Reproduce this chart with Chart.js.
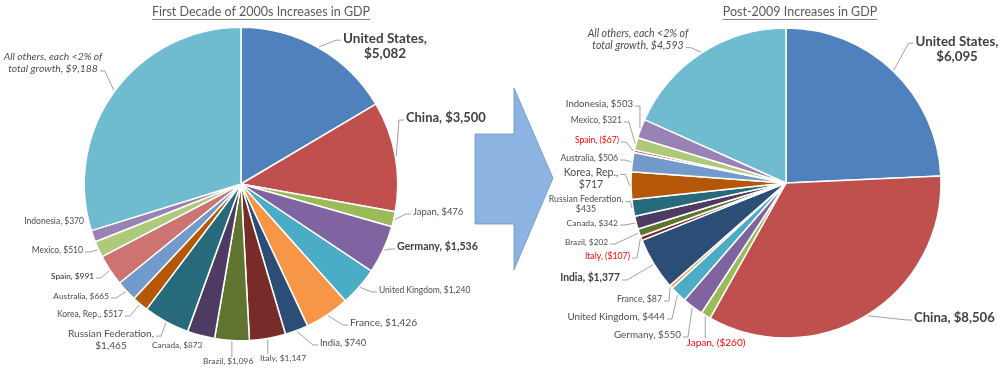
<!DOCTYPE html>
<html>
<head>
<meta charset="utf-8">
<script src="https://cdn.jsdelivr.net/npm/chart.js@4.4.1/dist/chart.umd.min.js"></script>
<style>
  body { margin: 0; background: #fff; }
  #wrap { position: relative; width: 1000px; height: 368px; overflow: hidden; }
  #wrap canvas, #wrap svg { position: absolute; left: 0; top: 0; }
</style>
</head>
<body>
<div id="wrap">
  <svg width="1000" height="368">
    <polygon points="475,134 514,134 514,88 553,178 514,270 514,224 475,224"
             fill="#8DB3E2" stroke="#6E95C9" stroke-width="0.8"/>
  </svg>
  <canvas id="decadeChart" width="1000" height="368"></canvas>
  <canvas id="postChart" width="1000" height="368"></canvas>
</div>
<script>
const countries = ['United States', 'China', 'Japan', 'Germany', 'United Kingdom', 'France', 'India', 'Italy',
    'Brazil', 'Canada', 'Russian Federation', 'Korea, Rep.', 'Australia', 'Spain', 'Mexico', 'Indonesia',
    'All others, each <2% of\ntotal growth'];
// GDP increases, billions of dollars
const decadeGrowth = [5082, 3500, 476, 1536, 1240, 1426, 740, 1147, 1096, 873, 1465, 517, 665, 991, 510, 370, 9188];
const post2009Growth = [6095, 8506, -260, 550, 444, 87, 1377, -107, 202, 342, 435, 717, 506, -67, 321, 503, 4593];
const sliceColors = ['#4F81BD', '#C0504D', '#9BBB59', '#8064A2', '#4BACC6', '#F79646', '#2C4D75', '#772C2A',
    '#5F7530', '#4D3B62', '#276A7C', '#B65708', '#729ACA', '#CD7371', '#AFC97A', '#9983B5', '#6FBCD1'];

const FONT = 'Lato, "Open Sans", sans-serif';

// where each slice's label sits (same order as countries)
// w: width of the widest text line, font size is fitted to it
// line: which text line the leader attaches to (default: middle of the block)
const decadeLabels = [
    {x: 385, y: 46, align: 'center', w: 80, bold: true, wrap: true, attach: 'l', line: 0},
    {x: 406, y: 118, align: 'left', w: 76, bold: true, attach: 'l'},
    {x: 413, y: 212, align: 'left', w: 48, attach: 'l'},
    {x: 397, y: 247, align: 'left', w: 77, bold: true, attach: 'l'},
    {x: 379, y: 290, align: 'left', w: 87, attach: 'l'},
    {x: 350, y: 323, align: 'left', w: 64, attach: 'l'},
    {x: 320, y: 343, align: 'left', w: 44, attach: 'l'},
    {x: 260, y: 358, align: 'left', w: 44, attach: 't'},
    {x: 203, y: 361, align: 'left', w: 48, attach: 't'},
    {x: 152, y: 345, align: 'left', w: 48, attach: 'none'},
    {x: 111, y: 340, align: 'center', w: 82, wrap: true, attach: 'r', line: 0},
    {x: 123, y: 314, align: 'right', w: 63, attach: 'r'},
    {x: 109, y: 296, align: 'right', w: 53, attach: 'r'},
    {x: 94, y: 276, align: 'right', w: 41, attach: 'r', color: '#1F1F1F'},
    {x: 83, y: 250, align: 'right', w: 49, attach: 'r'},
    {x: 84, y: 221, align: 'right', w: 57, attach: 'none'},
    {x: 53, y: 63, align: 'center', w: 94, italic: true, wrap: true, attach: 'r', line: 1}
];
const postLabels = [
    {x: 957, y: 49, align: 'center', w: 79, bold: true, wrap: true, attach: 'l', line: 0},
    {x: 914, y: 318, align: 'left', w: 77, bold: true, attach: 'l'},
    {x: 716, y: 343, align: 'center', w: 56, attach: 't'},
    {x: 681, y: 335, align: 'right', w: 64, attach: 'r'},
    {x: 665, y: 317, align: 'right', w: 93, attach: 'r'},
    {x: 662, y: 299, align: 'right', w: 43, attach: 'r'},
    {x: 620, y: 278, align: 'right', w: 57, bold: true, attach: 'r'},
    {x: 630, y: 256, align: 'right', w: 43, attach: 'r'},
    {x: 608, y: 242, align: 'right', w: 41, attach: 'r'},
    {x: 618, y: 223, align: 'right', w: 49, attach: 'r'},
    {x: 586, y: 204.5, align: 'center', w: 71, wrap: true, attach: 'r', line: 0},
    {x: 591, y: 178.5, align: 'center', w: 52, wrap: true, attach: 'r', line: 0},
    {x: 618, y: 158, align: 'right', w: 55, attach: 'r'},
    {x: 619, y: 140, align: 'right', w: 42, attach: 'r'},
    {x: 622, y: 120, align: 'right', w: 49, attach: 'r'},
    {x: 633, y: 104, align: 'right', w: 64, attach: 'r'},
    {x: 638, y: 39.5, align: 'center', w: 96, italic: true, wrap: true, attach: 'r', line: 1}
];

// kept outside chart options so Chart.js doesn't proxy the objects
const labelSetup = {
    decadeChart: {title: 'First Decade of 2000s Increases in GDP', titleX: 261, layout: decadeLabels},
    postChart: {title: 'Post-2009 Increases in GDP', titleX: 800, layout: postLabels}
};

function money(v) {
    const s = '$' + Math.abs(v).toLocaleString('en-US');
    return v < 0 ? '(' + s + ')' : s;
}

function labelLines(name, value, wrap) {
    const parts = name.split('\n');
    const val = money(value);
    if (parts.length > 1) return [parts[0], parts[1] + ', ' + val];
    if (wrap) return [name + ',', val];
    return [name + ', ' + val];
}

const sliceLabels = {
    id: 'sliceLabels',
    afterDatasetsDraw(chart) {
        const setup = labelSetup[chart.canvas.id];
        const ctx = chart.ctx;
        const arcs = chart.getDatasetMeta(0).data;
        const values = chart.data.datasets[0].data;
        ctx.save();

        // underlined title
        ctx.font = '12.5px ' + FONT;
        ctx.fillStyle = '#595959';
        ctx.textAlign = 'center';
        ctx.textBaseline = 'middle';
        ctx.fillText(setup.title, setup.titleX, 12);
        const tw = ctx.measureText(setup.title).width;
        ctx.strokeStyle = '#7F7F7F';
        ctx.lineWidth = 1;
        ctx.beginPath();
        ctx.moveTo(setup.titleX - tw / 2, 19.5);
        ctx.lineTo(setup.titleX + tw / 2, 19.5);
        ctx.stroke();

        setup.layout.forEach((lay, i) => {
            const p = arcs[i].getProps(['x', 'y', 'startAngle', 'endAngle', 'outerRadius'], true);
            const mid = (p.startAngle + p.endAngle) / 2;
            const px = p.x + Math.cos(mid) * (p.outerRadius + 1);
            const py = p.y + Math.sin(mid) * (p.outerRadius + 1);

            const lines = labelLines(chart.data.labels[i], values[i], lay.wrap);
            const style = (lay.italic ? 'italic ' : '') + (lay.bold ? 'bold ' : '');
            ctx.font = style + '10px ' + FONT;
            const w10 = Math.max(...lines.map(t => ctx.measureText(t).width));
            // Lato runs a little wider than the original font, so go slightly over the fitted size
            const size = Math.min(14, 10.5 * lay.w / w10);
            ctx.font = style + size.toFixed(2) + 'px ' + FONT;
            const lh = size * 1.16;
            const widths = lines.map(t => ctx.measureText(t).width);
            const maxW = Math.max(...widths);
            const leftOf = w => lay.align === 'left' ? lay.x : lay.align === 'right' ? lay.x - w : lay.x - w / 2;
            const top = lay.y - lines.length * lh / 2;
            const lineY = k => top + lh * (k + 0.5);

            // leader line
            ctx.strokeStyle = '#A0A0A0';
            ctx.lineWidth = 1;
            if (lay.attach === 'l' || lay.attach === 'r') {
                const hasLine = typeof lay.line === 'number';
                const w = hasLine ? widths[lay.line] : maxW;
                const ay = (hasLine ? lineY(lay.line) : lay.y) + 2;
                const ax = lay.attach === 'l' ? leftOf(w) - 2 : leftOf(w) + w + 2;
                const ex = lay.attach === 'l' ? ax - 5 : ax + 5;
                ctx.beginPath();
                ctx.moveTo(px, py);
                ctx.lineTo(ex, ay);
                ctx.lineTo(ax, ay);
                ctx.stroke();
            } else if (lay.attach === 't') {
                ctx.beginPath();
                ctx.moveTo(px, py);
                ctx.lineTo(px, top + 1);
                ctx.stroke();
            }

            // text
            let color = lay.color || (lay.bold ? '#404040' : '#4D4D4D');
            if (values[i] < 0) color = '#FF0000';
            ctx.fillStyle = color;
            ctx.textAlign = lay.align;
            ctx.textBaseline = 'middle';
            lines.forEach((t, k) => ctx.fillText(t, lay.x, lineY(k)));
        });
        ctx.restore();
    }
};

function makePie(canvasId, values, padding) {
    const ctx = document.getElementById(canvasId).getContext('2d');
    return new Chart(ctx, {
        type: 'pie',
        data: {
            labels: countries,
            datasets: [{
                data: values,
                backgroundColor: sliceColors,
                borderColor: '#FFFFFF',
                borderWidth: 1.5
            }]
        },
        options: {
            responsive: false,
            animation: false,
            events: [],
            layout: { padding: padding },
            plugins: {
                legend: { display: false },
                tooltip: { enabled: false }
            }
        },
        plugins: [sliceLabels]
    });
}

makePie('decadeChart', decadeGrowth, {left: 83.5, right: 601.5, top: 26.5, bottom: 26.5});
makePie('postChart', post2009Growth, {left: 630.25, right: 58.25, top: 27.25, bottom: 29.25});
</script>
</body>
</html>
